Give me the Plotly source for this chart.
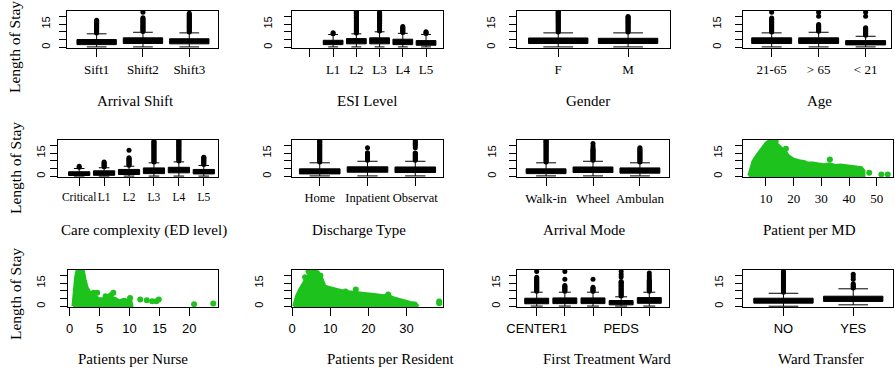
import plotly.graph_objects as go

W, H = 895, 371
GREEN = "#1DC21D"
SERIF = "Liberation Serif"
SANS = "Liberation Sans"
YRANGE = [-0.5, 23.5]
Y_TICKS = [0, 5, 10, 15, 20]
Y_TICKTEXT = ["0", "", "", "15", ""]
Y_LABEL = "Length of Stay"

# ---------------- Arrival Shift ----------------
shift_cats = ["Sift1", "Shift2", "Shift3"]
shift_q1 = [1.7, 2.4, 2.2]
shift_med = [3.3, 4.0, 3.7]
shift_q3 = [5.0, 6.1, 5.5]
shift_lo = [0.2, 0.2, 0.2]
shift_hi = [8.7, 9.7, 9.3]
shift_out = [
    [9.2, 9.8, 10.5, 11.1, 11.8, 12.4, 13.0, 13.7, 14.3, 15.0, 15.6, 16.2, 16.9, 17.5],
    [10.2, 10.8, 11.5, 12.1, 12.8, 13.4, 14.0, 14.7, 15.3, 16.0, 16.6, 17.2, 17.9, 18.5, 19.1, 22.7],
    [9.8, 10.4, 11.1, 11.7, 12.4, 13.0, 13.6, 14.3, 14.9, 15.6, 16.2, 16.8, 17.5, 18.1, 18.8,
     19.4, 20.0, 20.7, 21.3, 22.0],
]

# ---------------- ESI Level ----------------
esi_cats = ["", "L1", "L2", "L3", "L4", "L5"]
esi_box_cats = ["L1", "L2", "L3", "L4", "L5"]
esi_q1 = [1.7, 2.2, 2.2, 1.7, 1.3]
esi_med = [3.0, 3.8, 4.0, 3.3, 2.8]
esi_q3 = [4.5, 5.6, 6.1, 5.2, 4.3]
esi_lo = [0.2, 0.2, 0.2, 0.2, 0.2]
esi_hi = [8.2, 8.7, 10.0, 9.0, 8.3]
esi_out = [
    [8.8, 9.4],
    [9.3, 9.9, 10.6, 11.2, 11.9, 12.5, 13.1, 13.8, 14.4, 15.1, 15.7, 16.3, 17.0, 17.6, 18.3,
     18.9, 19.5, 20.2, 20.8, 21.5, 22.1, 22.7, 23.2],
    [10.5, 11.1, 11.8, 12.4, 13.1, 13.7, 14.3, 15.0, 15.6, 16.3, 16.9, 17.5, 18.2, 18.8, 19.5,
     20.1, 20.7, 21.4, 22.0, 22.6],
    [9.6, 10.2, 10.9, 11.5, 12.2, 12.8, 13.5],
    [8.9, 9.5, 10.1],
]

# ---------------- Gender ----------------
gender_cats = ["F", "M"]
gender_q1 = [2.4, 2.4]
gender_med = [4.0, 3.9]
gender_q3 = [6.0, 5.8]
gender_lo = [0.2, 0.2]
gender_hi = [9.3, 9.3]
gender_out = [
    [9.9, 10.5, 11.2, 11.8, 12.5, 13.1, 13.7, 14.4, 15.0, 15.7, 16.3, 16.9, 17.6, 18.2, 18.9,
     19.5, 20.1, 20.8, 21.4, 22.1, 22.7, 23.2],
    [9.9, 10.5, 11.2, 11.8, 12.5, 13.1, 13.7, 14.4, 15.0, 15.7, 16.3, 16.9, 17.6, 18.2, 18.9,
     19.5, 19.9],
]

# ---------------- Age ----------------
age_cats = ["21-65", "> 65", "< 21"]
age_q1 = [2.4, 2.4, 1.5]
age_med = [4.0, 4.1, 2.8]
age_q3 = [6.1, 6.1, 4.3]
age_lo = [0.2, 0.2, 0.2]
age_hi = [9.3, 9.7, 7.1]
age_out = [
    [9.9, 10.5, 11.2, 11.8, 12.5, 13.1, 13.7, 14.4, 15.0, 15.7, 16.3, 16.9, 17.6, 18.2, 19.0, 22.7],
    [10.3, 10.9, 11.6, 12.2, 12.9, 13.5, 14.1, 14.7, 20.1, 22.7],
    [7.7, 8.3, 9.0, 9.6, 10.3, 10.9, 11.5, 12.1, 12.6, 20.1, 22.7],
]

# ---------------- Care complexity ----------------
care_cats = ["Critical", "L1", "L2", "L3", "L4", "L5"]
care_q1 = [0.5, 0.6, 1.1, 1.7, 2.2, 1.5]
care_med = [1.6, 2.0, 2.6, 3.5, 4.0, 2.9]
care_q3 = [2.9, 3.5, 4.4, 5.4, 5.8, 4.4]
care_lo = [0.1, 0.1, 0.1, 0.1, 0.1, 0.1]
care_hi = [5.0, 5.5, 6.5, 8.7, 9.3, 7.0]
care_out = [
    [5.8, 6.4],
    [6.1, 6.7, 7.4, 8.0, 8.7, 9.3],
    [7.1, 7.7, 8.4, 9.0, 9.7, 10.3, 10.9, 11.5, 12.0, 16.9],
    [9.3, 9.9, 10.6, 11.2, 11.9, 12.5, 13.1, 13.8, 14.4, 15.1, 15.7, 16.3, 17.0, 17.6, 18.3,
     18.9, 19.5, 20.2, 20.8, 21.5, 22.1, 22.7],
    [9.9, 10.5, 11.2, 11.8, 12.5, 13.1, 13.7, 14.4, 15.0, 15.7, 16.3, 16.9, 17.6, 18.2, 18.9,
     19.5, 20.1, 20.8, 21.4, 22.1, 22.7, 23.2],
    [7.6, 8.2, 8.9, 9.5, 10.2, 10.8, 11.4, 12.0, 12.3],
]

# ---------------- Discharge Type ----------------
disc_cats = ["Home", "Inpatient", "Observat"]
disc_q1 = [1.5, 2.6, 2.4]
disc_med = [3.0, 4.3, 4.1]
disc_q3 = [4.8, 6.1, 6.0]
disc_lo = [0.2, 0.2, 0.2]
disc_hi = [8.7, 9.7, 9.7]
disc_out = [
    [9.3, 9.9, 10.6, 11.2, 11.9, 12.5, 13.1, 13.8, 14.4, 15.1, 15.7, 16.3, 17.0, 17.6, 18.3,
     18.9, 19.5, 20.2, 20.8, 21.5, 22.1, 22.6, 23.0],
    [10.3, 10.9, 11.6, 12.2, 12.9, 13.5, 14.1, 14.7, 15.2, 18.4],
    [10.3, 10.9, 11.6, 12.2, 12.9, 13.5, 14.1, 14.7, 15.0, 18.4, 19.8, 20.6, 21.4, 22.2, 23.0],
]

# ---------------- Arrival Mode ----------------
mode_cats = ["Walk-in", "Wheel", "Ambulan"]
mode_q1 = [1.7, 2.4, 2.0]
mode_med = [3.2, 4.1, 3.6]
mode_q3 = [4.8, 6.0, 5.4]
mode_lo = [0.2, 0.2, 0.2]
mode_hi = [8.7, 9.7, 8.7]
mode_out = [
    [9.3, 9.9, 10.6, 11.2, 11.9, 12.5, 13.1, 13.8, 14.4, 15.1, 15.7, 16.3, 17.0, 17.6, 18.3,
     18.9, 19.5, 20.2, 20.8, 21.5, 22.1, 22.6, 23.0],
    [10.3, 10.9, 11.6, 12.2, 12.9, 13.5, 14.1, 14.8, 15.4, 16.1, 16.7, 17.4, 18.0, 19.5, 21.2],
    [9.3, 9.9, 10.6, 11.2, 11.9, 12.5, 13.1, 13.8, 14.4, 15.1, 15.7, 16.3, 17.0, 17.6, 18.4],
]

# ---------------- Patient per MD (scatter) ----------------
md_cloud_x = [3.8, 4.5, 5.3, 6.5, 7.8, 9.0, 10.0, 11.0, 12.0, 13.0, 14.0, 15.0, 16.0, 17.0,
              18.0, 19.0, 20.0, 22.0, 24.0, 25.0, 27.0, 29.0, 31.0, 33.0, 35.0, 37.0, 39.0,
              41.0, 43.0, 44.5, 45.4]
md_cloud_top = [0.3, 4.0, 9.7, 13.0, 16.2, 19.0, 21.5, 22.8, 23.0, 22.5, 21.0, 19.5, 18.0, 16.0,
                13.5, 12.0, 11.0, 10.0, 9.5, 8.5, 8.5, 8.0, 7.5, 8.0, 7.0, 7.3, 6.8,
                6.5, 6.0, 5.5, 3.5]
md_pts_x = [17.2, 33.1, 47.3, 51.7, 54.0, 12.3, 13.5]
md_pts_y = [17.8, 10.8, 2.2, 1.2, 1.2, 22.7, 22.7]

# ---------------- Patients per Nurse (scatter) ----------------
nurse_cloud_x = [0.55, 0.7, 0.85, 1.0, 1.2, 2.3, 2.6, 2.9, 3.3, 3.7, 4.2, 4.8, 5.5, 6.2, 7.0,
                 7.6, 8.3, 9.0, 9.6, 10.2, 10.4]
nurse_cloud_top = [0.0, 8.0, 13.4, 19.0, 22.7, 22.7, 17.0, 12.3, 9.5, 8.0, 7.0, 5.0, 4.8, 6.0,
                   5.5, 5.0, 3.5, 4.5, 4.0, 4.0, 0.5]
nurse_pts_x = [4.0, 4.6, 6.0, 6.9, 7.3, 10.1, 11.8, 12.9, 13.8, 14.5, 14.9, 20.8, 24.0]
nurse_pts_y = [8.7, 8.7, 6.5, 7.2, 8.7, 5.4, 4.4, 3.9, 3.3, 3.3, 4.3, 1.3, 1.7]

# ---------------- Patients per Resident (scatter) ----------------
res_cloud_x = [0.4, 0.8, 1.2, 1.8, 2.5, 3.2, 4.0, 5.0, 6.0, 7.0, 7.8, 8.6, 10.0, 12.0, 14.0,
               16.0, 18.0, 20.0, 22.0, 24.0, 25.2, 26.5, 28.0, 29.5, 31.0, 32.4, 33.0]
res_cloud_top = [0.0, 4.0, 7.0, 10.0, 13.4, 16.0, 19.0, 22.5, 22.8, 21.0, 18.0, 13.0, 12.0, 10.5,
                 9.5, 9.0, 8.6, 8.0, 7.5, 6.8, 7.2, 5.5, 4.5, 3.0, 2.5, 2.0, 0.5]
res_pts_x = [3.4, 4.3, 6.5, 7.4, 14.0, 16.7, 25.2, 38.6, 38.6]
res_pts_y = [18.8, 22.6, 21.5, 20.0, 9.5, 10.8, 7.6, 2.0, 3.0]

# ---------------- First Treatment Ward ----------------
ward_tick_labels = ["CENTER1", "", "", "PEDS", ""]
ward_q1 = [1.6, 1.7, 1.7, 0.9, 1.9]
ward_med = [3.3, 3.4, 3.4, 2.2, 3.6]
ward_q3 = [5.2, 5.4, 5.4, 3.7, 5.6]
ward_lo = [0.1, 0.1, 0.1, 0.1, 0.1]
ward_hi = [9.1, 9.1, 9.1, 6.1, 9.1]
ward_out = [
    [9.7, 10.3, 11.0, 11.6, 12.3, 12.9, 13.5, 14.2, 14.8, 15.5, 16.1, 16.7, 17.4, 18.0, 18.8, 22.5],
    [9.7, 10.3, 11.0, 11.6, 12.3, 12.9, 13.4, 17.5, 22.5],
    [9.7, 10.3, 11.0, 11.6, 12.3, 17.5],
    [6.7, 7.3, 8.0, 8.6, 9.3, 9.9, 10.5, 11.2, 11.8, 12.5, 13.1, 13.7, 14.4, 15.0, 15.6, 16.0,
     19.0, 20.5, 22.5],
    [9.7, 10.3, 11.0, 11.6, 12.3, 12.9, 13.5, 14.2, 14.8, 15.5, 16.1, 16.7, 17.0, 18.5, 20.0, 21.5],
]

# ---------------- Ward Transfer ----------------
transfer_cats = ["NO", "YES"]
transfer_q1 = [2.0, 3.1]
transfer_med = [3.6, 4.9]
transfer_q3 = [5.2, 6.5]
transfer_lo = [0.0, 0.9]
transfer_hi = [8.4, 11.3]
transfer_out = [
    [9.0, 9.6, 10.3, 10.9, 11.6, 12.2, 12.8, 13.5, 14.1, 14.8, 15.4, 16.0, 16.7, 17.3, 18.0,
     18.6, 19.2, 19.9, 20.5, 21.2, 21.8, 22.5],
    [11.9, 12.5, 13.2, 13.8, 14.5, 17.5, 19.2, 20.7],
]

# ---------------- panel layout (pixels) ----------------
panels = [
    dict(kind="box", cats=shift_cats, box_cats=shift_cats, q1=shift_q1, med=shift_med, q3=shift_q3,
         lo=shift_lo, hi=shift_hi, out=shift_out, title="Arrival Shift",
         px=(67, 218, 11, 48), rng=[0.36, 3.62], font=SERIF, fs=13, tpos=(135, 101), ys=5),
    dict(kind="box", cats=esi_cats, box_cats=esi_box_cats, q1=esi_q1, med=esi_med, q3=esi_q3,
         lo=esi_lo, hi=esi_hi, out=esi_out, title="ESI Level",
         px=(292, 443, 11, 48), rng=[0.23, 6.73], font=SERIF, fs=13, tpos=(367, 101), ys=8),
    dict(kind="box", cats=gender_cats, box_cats=gender_cats, q1=gender_q1, med=gender_med, q3=gender_q3,
         lo=gender_lo, hi=gender_hi, out=gender_out, title="Gender",
         px=(517, 670, 11, 48), rng=[0.41, 2.6], font=SERIF, fs=13, tpos=(588, 101), ys=10),
    dict(kind="box", cats=age_cats, box_cats=age_cats, q1=age_q1, med=age_med, q3=age_q3,
         lo=age_lo, hi=age_hi, out=age_out, title="Age",
         px=(743, 891, 11, 48), rng=[0.39, 3.54], font=SERIF, fs=13, tpos=(819, 101), ys=10),
    dict(kind="box", cats=care_cats, box_cats=care_cats, q1=care_q1, med=care_med, q3=care_q3,
         lo=care_lo, hi=care_hi, out=care_out, title="Care complexity (ED level)",
         px=(58, 218, 140, 177), rng=[0.15, 6.57], font=SERIF, fs=11.5, tpos=(144, 230), ys=1),
    dict(kind="box", cats=disc_cats, box_cats=disc_cats, q1=disc_q1, med=disc_med, q3=disc_q3,
         lo=disc_lo, hi=disc_hi, out=disc_out, title="Discharge Type",
         px=(292, 443, 140, 177), rng=[0.42, 3.58], font=SERIF, fs=12.5, tpos=(359, 230), ys=9),
    dict(kind="box", cats=mode_cats, box_cats=mode_cats, q1=mode_q1, med=mode_med, q3=mode_q3,
         lo=mode_lo, hi=mode_hi, out=mode_out, title="Arrival Mode",
         px=(517, 669, 140, 177), rng=[0.38, 3.62], font=SERIF, fs=13, tpos=(584, 230), ys=9),
    dict(kind="scatter", cx=md_cloud_x, cy=md_cloud_top, sx=md_pts_x, sy=md_pts_y,
         ticks=[10, 20, 30, 40, 50], title="Patient per MD",
         px=(743, 893, 140, 177), rng=[1.7, 55.9], font=SERIF, fs=13, tpos=(809, 230), ys=9),
    dict(kind="scatter", cx=nurse_cloud_x, cy=nurse_cloud_top, sx=nurse_pts_x, sy=nurse_pts_y,
         ticks=[0, 5, 10, 15, 20], title="Patients per Nurse",
         px=(68, 218, 270, 307), rng=[-0.28, 24.8], font=SANS, fs=13, tpos=(133, 359), ys=11),
    dict(kind="scatter", cx=res_cloud_x, cy=res_cloud_top, sx=res_pts_x, sy=res_pts_y,
         ticks=[0, 10, 20, 30], title="Patients per Resident",
         px=(292, 443, 270, 307), rng=[-0.05, 39.6], font=SANS, fs=13, tpos=(390, 359), ys=17),
    dict(kind="box", cats=ward_tick_labels, box_cats=None, q1=ward_q1, med=ward_med, q3=ward_q3,
         lo=ward_lo, hi=ward_hi, out=ward_out, title="First Treatment Ward",
         px=(517, 669, 270, 307), rng=[0.3, 5.7], font=SANS, fs=13, tpos=(607, 359), ys=5),
    dict(kind="box", cats=transfer_cats, box_cats=transfer_cats, q1=transfer_q1, med=transfer_med,
         q3=transfer_q3, lo=transfer_lo, hi=transfer_hi, out=transfer_out, title="Ward Transfer",
         px=(743, 893, 270, 307), rng=[0.42, 2.57], font=SANS, fs=13, tpos=(821, 359), ys=8),
]
ylabel_rows = [47, 168, 294]

fig = go.Figure()
layout = dict(width=W, height=H, margin=dict(l=0, r=0, t=0, b=0, autoexpand=False),
              paper_bgcolor="white", plot_bgcolor="white", showlegend=False)
annotations = []

for i, p in enumerate(panels, start=1):
    sfx = "" if i == 1 else str(i)
    xref, yref = "x" + sfx, "y" + sfx
    left, right, top, bottom = p["px"]
    if p["kind"] == "box":
        positions = list(range(1, len(p["cats"]) + 1))
        if p["box_cats"] is None:
            box_pos = positions
        else:
            box_pos = [p["cats"].index(c) + 1 for c in p["box_cats"]]
        fig.add_trace(go.Box(
            x=box_pos, q1=p["q1"], median=p["med"], q3=p["q3"],
            lowerfence=p["lo"], upperfence=p["hi"], width=0.85, whiskerwidth=0.5,
            fillcolor="black", line=dict(color="black", width=1), boxpoints=False,
            hoverinfo="skip", xaxis=xref, yaxis=yref))
        ox, oy = [], []
        for bp, vals in zip(box_pos, p["out"]):
            ox += [bp] * len(vals)
            oy += vals
        fig.add_trace(go.Scatter(x=ox, y=oy, mode="markers",
                                 marker=dict(size=5, color="black"),
                                 hoverinfo="skip", xaxis=xref, yaxis=yref))
        tickvals, ticktext = positions, p["cats"]
    else:
        poly_x = p["cx"] + p["cx"][::-1]
        poly_y = p["cy"] + [0.0] * len(p["cx"])
        fig.add_trace(go.Scatter(x=poly_x, y=poly_y, mode="lines", fill="toself",
                                 fillcolor=GREEN, line=dict(color=GREEN, width=3),
                                 hoverinfo="skip", xaxis=xref, yaxis=yref))
        fig.add_trace(go.Scatter(x=p["sx"], y=p["sy"], mode="markers",
                                 marker=dict(size=6, color=GREEN),
                                 hoverinfo="skip", xaxis=xref, yaxis=yref))
        tickvals, ticktext = p["ticks"], [str(t) for t in p["ticks"]]

    layout["xaxis" + sfx] = dict(
        domain=[left / W, right / W], anchor=yref, range=p["rng"], automargin=False,
        tickmode="array", tickvals=tickvals, ticktext=ticktext, tickangle=0,
        ticks="outside", ticklen=8, tickwidth=1, tickcolor="black",
        showline=True, mirror=True, linecolor="black", linewidth=1,
        showgrid=False, zeroline=False, ticklabelstandoff=1,
        tickfont=dict(family=p["font"], size=p["fs"], color="black"), fixedrange=True)
    layout["yaxis" + sfx] = dict(
        domain=[1 - bottom / H, 1 - top / H], anchor=xref, range=YRANGE, automargin=False,
        tickmode="array", tickvals=Y_TICKS, ticktext=Y_TICKTEXT, tickangle=-90,
        ticks="outside", ticklen=7, tickwidth=1, tickcolor="black",
        showline=True, mirror=True, linecolor="black", linewidth=1,
        showgrid=False, zeroline=False, ticklabelstandoff=p["ys"],
        tickfont=dict(family=SANS, size=11, color="black"), fixedrange=True)

    tx, ty = p["tpos"]
    annotations.append(dict(text=p["title"], x=tx / W, y=1 - ty / H, xref="paper", yref="paper",
                            xanchor="center", yanchor="middle", showarrow=False,
                            font=dict(family=SERIF, size=15, color="black")))

for ry in ylabel_rows:
    annotations.append(dict(text=Y_LABEL, x=15 / W, y=1 - ry / H, xref="paper", yref="paper",
                            xanchor="center", yanchor="middle", showarrow=False, textangle=-90,
                            font=dict(family=SERIF, size=15.5, color="black")))

layout["annotations"] = annotations
fig.update_layout(**layout)
fig.write_html("out.html", config={"displayModeBar": False},
               post_script="document.body.style.margin='0';document.body.style.overflow='hidden';")
